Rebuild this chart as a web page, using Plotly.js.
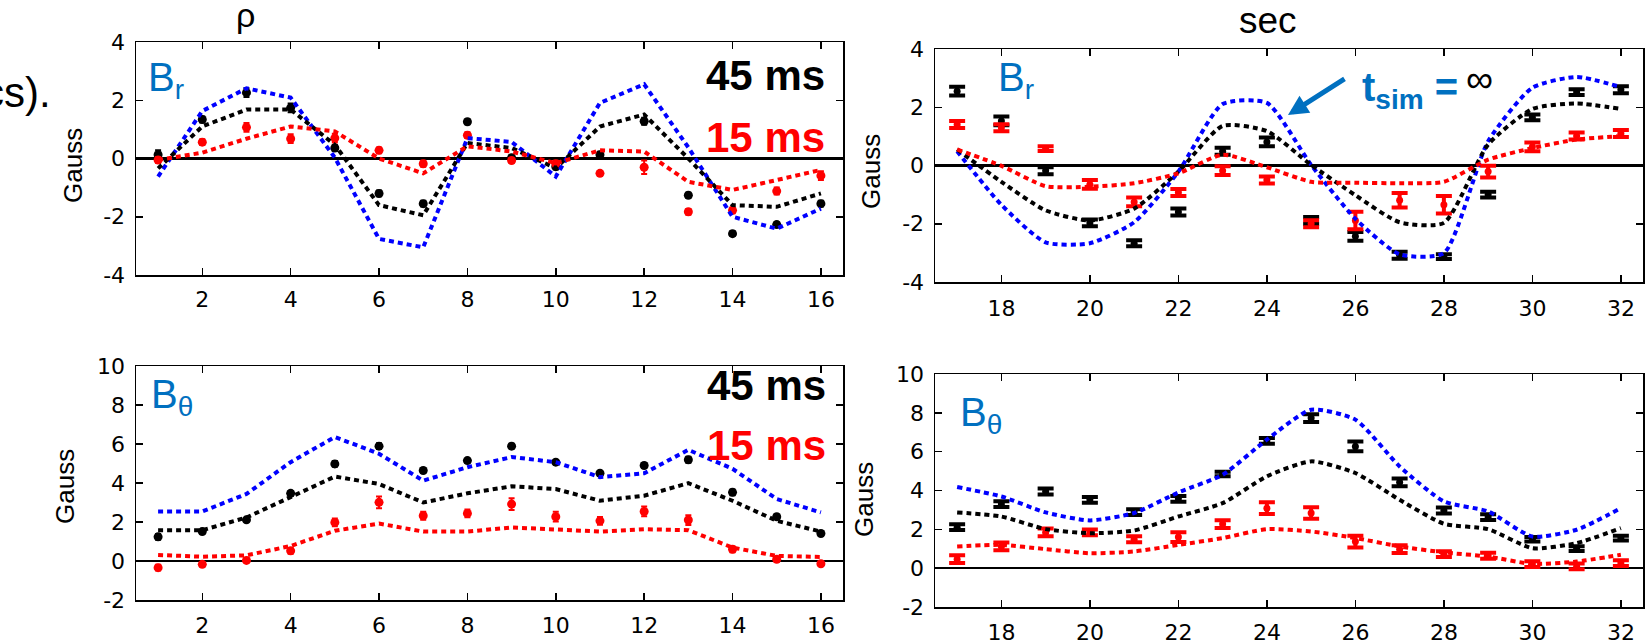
<!DOCTYPE html>
<html>
<head>
<meta charset="utf-8">
<script src="https://cdn.plot.ly/plotly-3.0.1.min.js"></script>
<style>html,body{margin:0;padding:0;background:#fff;}#chart{width:1645px;height:640px;}</style>
</head>
<body>
<div id="chart"></div>
<script>
// ---- data ----
const xLeft  = [1,2,3,4,5,6,7,8,9,10,11,12,13,14,15,16];
const xRight = [17,18,19,20,21,22,23,24,25,26,27,28,29,30,31,32];

// tick labels (hyphen minus as in the reference)
const yTicksBr     = [-4,-2,0,2,4];
const yTickTextBr  = ['-4','-2','0','2','4'];
const yTicksBt     = [-2,0,2,4,6,8,10];
const yTickTextBt  = ['-2','0','2','4','6','8','10'];

// Top-left (B_r, rho)
const tlBlack    = [0.13,1.34,2.26,1.74,0.36,-1.2,-1.55,1.26,0.03,-0.28,0.13,1.28,-1.26,-2.58,-2.27,-1.55];
const tlBlackErr = [0.15,0.1,0.15,0.15,0.1,0.1,0.1,0.08,0.08,0.1,0.1,0.12,0.08,0.08,0.08,0.1];
const tlRed      = [-0.05,0.56,1.07,0.68,0.7,0.28,-0.18,0.8,-0.07,-0.18,-0.51,-0.3,-1.83,-1.78,-1.12,-0.59];
const tlRedErr   = [0.1,0.1,0.15,0.15,0.15,0.1,0.1,0.1,0.08,0.1,0.08,0.23,0.1,0.1,0.12,0.15];
const tlSimInf   = [-0.62,1.63,2.41,2.09,0.03,-2.76,-3.05,0.7,0.57,-0.62,1.91,2.55,0.38,-2.0,-2.41,-1.72];
const tlSim45    = [-0.34,1.1,1.68,1.68,0.47,-1.6,-1.95,0.53,0.36,-0.33,1.1,1.51,0.0,-1.6,-1.66,-1.2];
const tlSim15    = [-0.05,0.2,0.68,1.1,0.93,0.0,-0.51,0.42,0.24,-0.16,0.28,0.24,-0.8,-1.08,-0.74,-0.39];

// Top-right (B_r, sec)
const trBlack    = [2.55,1.53,-0.18,-1.97,-2.67,-1.6,0.49,0.81,-1.89,-2.43,-3.08,-3.13,-1.0,1.65,2.52,2.6];
const trBlackErr = [0.15,0.15,0.12,0.12,0.1,0.12,0.12,0.15,0.12,0.15,0.12,0.08,0.1,0.1,0.1,0.12];
const trRed      = [1.41,1.3,0.58,-0.65,-1.25,-0.93,-0.18,-0.5,-2.0,-1.89,-1.19,-1.35,-0.21,0.64,1.01,1.1];
const trRedErr   = [0.12,0.12,0.08,0.15,0.15,0.12,0.15,0.12,0.12,0.3,0.25,0.3,0.2,0.15,0.12,0.12];
const trSimInf   = [0.49,-1.35,-2.64,-2.67,-1.95,-0.21,2.11,2.15,0.02,-1.83,-3.05,-3.01,0.83,2.67,3.04,2.69];
const trSim45    = [0.55,-0.56,-1.54,-1.89,-1.48,-0.21,1.36,1.18,0.02,-1.02,-1.95,-1.97,0.72,1.94,2.13,1.94];
const trSim15    = [0.55,-0.01,-0.71,-0.73,-0.61,-0.27,0.37,-0.06,-0.56,-0.59,-0.61,-0.56,0.2,0.6,0.89,1.01];

// Bottom-left (B_theta, rho)
const blBlack    = [1.24,1.51,2.11,3.47,4.98,5.89,4.64,5.15,5.89,5.07,4.5,4.9,5.19,3.52,2.27,1.41];
const blBlackErr = [0.15,0.1,0.1,0.12,0.15,0.15,0.1,0.1,0.12,0.1,0.1,0.12,0.15,0.15,0.1,0.1];
const blRed      = [-0.34,-0.17,0.03,0.52,1.98,3.01,2.32,2.44,2.92,2.27,2.06,2.54,2.1,0.6,0.09,-0.14];
const blRedErr   = [0.15,0.1,0.1,0.15,0.2,0.3,0.2,0.2,0.3,0.25,0.2,0.25,0.25,0.15,0.12,0.1];
const blSimInf   = [2.54,2.54,3.44,5.07,6.36,5.5,4.12,4.81,5.33,5.07,4.3,4.5,5.7,4.73,3.18,2.49];
const blSim45    = [1.58,1.58,2.23,3.26,4.33,3.95,3.0,3.47,3.83,3.69,3.09,3.35,3.99,3.09,2.06,1.51];
const blSim15    = [0.31,0.22,0.29,0.77,1.55,1.92,1.51,1.51,1.72,1.63,1.51,1.63,1.58,0.69,0.26,0.21];

// Bottom-right (B_theta, sec)
const brBlack    = [2.11,3.3,3.95,3.52,2.89,3.57,4.85,6.56,7.73,6.27,4.42,2.97,2.63,1.49,1.01,1.55];
const brBlackErr = [0.15,0.15,0.15,0.15,0.15,0.15,0.12,0.15,0.2,0.25,0.2,0.15,0.15,0.12,0.12,0.12];
const brRed      = [0.46,1.12,1.84,1.84,1.49,1.6,2.27,3.09,2.84,1.37,0.98,0.72,0.64,0.21,0.09,0.26];
const brRedErr   = [0.2,0.2,0.2,0.15,0.15,0.25,0.2,0.3,0.3,0.3,0.2,0.15,0.15,0.15,0.15,0.15];
const brSimInf   = [4.18,3.69,2.87,2.46,2.84,3.9,4.81,6.62,8.16,7.65,5.24,3.44,2.92,1.63,1.98,3.09];
const brSim45    = [2.87,2.66,2.01,1.8,1.94,2.66,3.35,4.73,5.5,4.9,3.52,2.29,2.01,1.03,1.29,2.06];
const brSim15    = [1.12,1.2,0.98,0.77,0.86,1.2,1.55,2.01,1.89,1.55,1.12,0.81,0.6,0.22,0.34,0.69];

// ---- build ----
const W = 1645, H = 640;
const px = v => v / W;
const py = v => 1 - v / H;

function dataTrace(x, y, err, color, xa, ya, wide) {
  return {
    type: 'scatter', mode: 'markers', x: x, y: y, xaxis: xa, yaxis: ya,
    marker: {color: color, size: wide ? 7 : 9},
    error_y: {type: 'data', array: err, visible: true, color: color,
              thickness: wide ? 4 : 2, width: wide ? 8 : 3},
    hoverinfo: 'skip'
  };
}
function simTrace(x, y, color, xa, ya, shape) {
  return {
    type: 'scatter', mode: 'lines', x: x, y: y, xaxis: xa, yaxis: ya,
    line: {color: color, width: 4, dash: '5px,4px', shape: shape, smoothing: 0.6},
    hoverinfo: 'skip'
  };
}

const traces = [];
function panel(x, blk, blkErr, red, redErr, sInf, s45, s15, xa, ya, wide, shape) {
  traces.push(dataTrace(x, blk, blkErr, '#000000', xa, ya, wide));
  traces.push(dataTrace(x, red, redErr, '#ff0000', xa, ya, wide));
  traces.push(simTrace(x, sInf, '#0000ff', xa, ya, shape));
  traces.push(simTrace(x, s45, '#000000', xa, ya, shape));
  traces.push(simTrace(x, s15, '#ff0000', xa, ya, shape));
}
panel(xLeft, tlBlack, tlBlackErr, tlRed, tlRedErr, tlSimInf, tlSim45, tlSim15, 'x', 'y', false, 'linear');
panel(xRight, trBlack, trBlackErr, trRed, trRedErr, trSimInf, trSim45, trSim15, 'x2', 'y2', true, 'spline');
panel(xLeft, blBlack, blBlackErr, blRed, blRedErr, blSimInf, blSim45, blSim15, 'x3', 'y3', false, 'linear');
panel(xRight, brBlack, brBlackErr, brRed, brRedErr, brSimInf, brSim45, brSim15, 'x4', 'y4', true, 'spline');

const tickFont = {family: 'DejaVu Sans', size: 22, color: '#000'};
function xAx(dom, range, anchor, standoff) {
  return {domain: dom, range: range, anchor: anchor, dtick: 2, tick0: 0,
    showline: true, linecolor: '#000', linewidth: 1.5, mirror: 'ticks',
    ticks: 'inside', ticklen: 7, tickwidth: 1.5, tickcolor: '#000',
    showgrid: false, zeroline: false, tickfont: tickFont, ticklabelstandoff: standoff};
}
function yAx(dom, range, anchor, vals, txt) {
  return {domain: dom, range: range, anchor: anchor, tickmode: 'array',
    tickvals: vals, ticktext: txt,
    showline: true, linecolor: '#000', linewidth: 1.5, mirror: 'ticks',
    ticks: 'inside', ticklen: 7, tickwidth: 1.5, tickcolor: '#000',
    showgrid: false, zeroline: true, zerolinecolor: '#000', zerolinewidth: 2.2,
    tickfont: tickFont, ticklabelstandoff: 5};
}

const domXL = [px(136), px(843)], domXR = [px(935), px(1643)];
const layout = {
  width: W, height: H, margin: {l: 0, r: 0, t: 0, b: 0},
  paper_bgcolor: '#fff', plot_bgcolor: '#fff', showlegend: false,
  xaxis:  xAx(domXL, [0.5, 16.5], 'y', 4),
  yaxis:  yAx([py(275), py(42)], [-4, 4], 'x', yTicksBr, yTickTextBr),
  xaxis2: xAx(domXR, [16.5, 32.5], 'y2', 6),
  yaxis2: yAx([py(282), py(49)], [-4, 4], 'x2', yTicksBr, yTickTextBr),
  xaxis3: xAx(domXL, [0.5, 16.5], 'y3', 5),
  yaxis3: yAx([py(600), py(366)], [-2, 10], 'x3', yTicksBt, yTickTextBt),
  xaxis4: xAx(domXR, [16.5, 32.5], 'y4', 5),
  yaxis4: yAx([py(607), py(374)], [-2, 10], 'x4', yTicksBt, yTickTextBt),
  annotations: []
};

const ARIAL = 'Liberation Sans, Arial, sans-serif';
const BLUE = '#0070c0';
function ann(text, x, y, opts) {
  return Object.assign({text: text, x: px(x), y: py(y), xref: 'paper', yref: 'paper',
    showarrow: false, xanchor: 'center', yanchor: 'middle',
    font: {family: ARIAL, size: 22, color: '#000'}}, opts || {});
}
const A = layout.annotations;
A.push(ann('cs).', 53, 92, {xanchor: 'right', font: {family: ARIAL, size: 42, color: '#000'}}));
A.push(ann('\u03c1', 245, 15, {font: {family: ARIAL, size: 34, color: '#000'}}));
A.push(ann('sec', 1268, 20, {font: {family: ARIAL, size: 37, color: '#000'}}));
[[73,166],[871,172],[65,487],[864,500]].forEach(p => {
  A.push(ann('Gauss', p[0], p[1], {textangle: -90, font: {family: ARIAL, size: 26, color: '#000'}}));
});
const bFont = {family: ARIAL, size: 40, color: BLUE};
A.push(ann('B<sub>r</sub>', 146, 53, {xanchor: 'left', yanchor: 'top', font: bFont}));
A.push(ann('B<sub>r</sub>', 996, 53, {xanchor: 'left', yanchor: 'top', font: bFont}));
A.push(ann('B<sub>\u03b8</sub>', 149, 370, {xanchor: 'left', yanchor: 'top', font: bFont}));
A.push(ann('B<sub>\u03b8</sub>', 958, 388, {xanchor: 'left', yanchor: 'top', font: bFont}));
const msFontK = {family: ARIAL, size: 42, color: '#000', weight: 'bold'};
const msFontR = {family: ARIAL, size: 42, color: '#ff0000', weight: 'bold'};
A.push(ann('<b>45 ms</b>', 827, 75, {xanchor: 'right', font: msFontK}));
A.push(ann('<b>15 ms</b>', 827, 137, {xanchor: 'right', font: msFontR}));
A.push(ann('<b>45 ms</b>', 828, 385, {xanchor: 'right', font: msFontK}));
A.push(ann('<b>15 ms</b>', 828, 445, {xanchor: 'right', font: msFontR}));
A.push(ann('<b>t<sub>sim</sub> =</b>', 1360, 63, {xanchor: 'left', yanchor: 'top',
  font: {family: ARIAL, size: 40, color: BLUE}}));
A.push(ann('\u221e', 1479, 79, {font: {family: ARIAL, size: 38, color: '#000'}}));
A.push({text: '', x: px(1288), y: py(115), xref: 'paper', yref: 'paper',
  showarrow: true, ax: 58, ay: -37, axref: 'pixel', ayref: 'pixel',
  arrowcolor: BLUE, arrowwidth: 5, arrowhead: 2, arrowsize: 0.8, standoff: 0});

Plotly.newPlot('chart', traces, layout, {staticPlot: true, displayModeBar: false});
</script>
</body>
</html>
